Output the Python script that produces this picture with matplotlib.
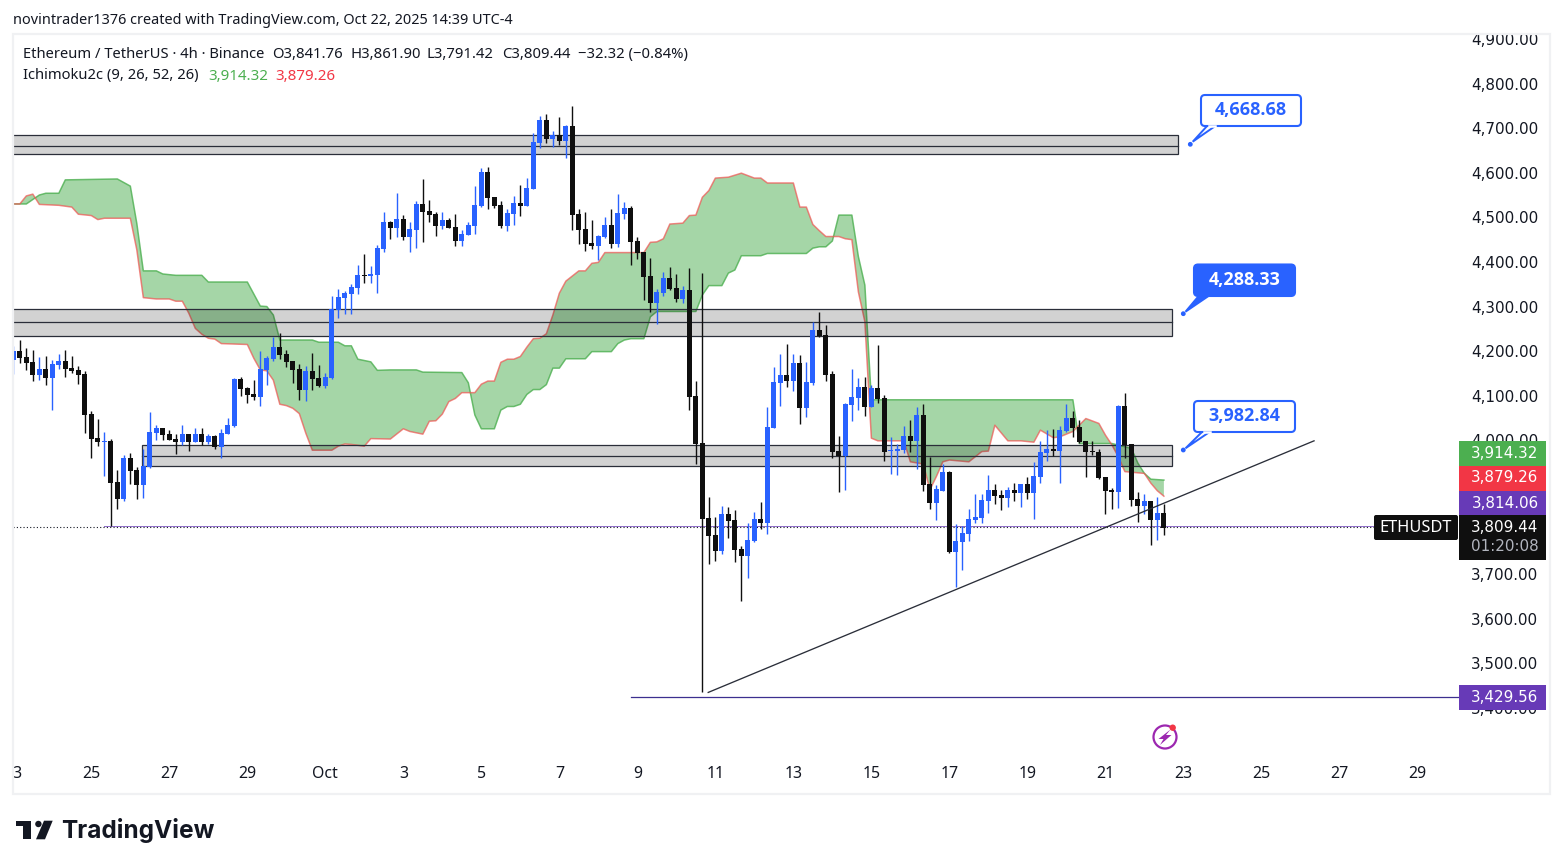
import matplotlib

matplotlib.use("Agg")

import matplotlib.pyplot as plt
import numpy as np
from matplotlib.patches import Circle, FancyBboxPatch, Polygon, Rectangle
from matplotlib.transforms import Affine2D, Bbox, TransformedBbox

W, H = 1563, 868
FONT = "Noto Sans"
NUM_FONT = "DejaVu Sans"
INK = "#131722"
BLUE = "#2962ff"
PURPLE = "#673ab7"

# 4h candles, first bar is Sep 23 00:00
opens = [
    4180, 4200, 4187, 4176, 4147, 4160, 4140, 4169, 4178, 4162,
    4158, 4149, 4059, 4005, 3996, 3999, 3907, 3869, 3960, 3934,
    3900, 3940, 4017, 4028, 4014, 4003, 3996, 4014, 3996, 4014,
    3996, 4010, 3985, 4014, 4032, 4138, 4117, 4104, 4097, 4158,
    4182, 4209, 4194, 4178, 4160, 4113, 4156, 4140, 4122, 4140,
    4292, 4319, 4328, 4342, 4371, 4369, 4371, 4429, 4490, 4476,
    4496, 4456, 4472, 4530, 4514, 4508, 4481, 4494, 4478, 4447,
    4461, 4481, 4526, 4602, 4546, 4528, 4481, 4508, 4532, 4526,
    4564, 4667, 4718, 4676, 4685, 4671, 4705, 4508, 4474, 4443,
    4436, 4456, 4483, 4440, 4508, 4521, 4447, 4422, 4369, 4308,
    4330, 4364, 4342, 4317, 4337, 4100, 3994, 3826, 3788, 3752,
    3835, 3822, 3757, 3741, 3774, 3824, 3815, 4028, 4129, 4147,
    4133, 4174, 4073, 4129, 4248, 4236, 4149, 3976, 3965, 4079,
    4095, 4120, 4075, 4118, 4095, 3976, 3976, 3978, 4010, 3999,
    4057, 3902, 3860, 3887, 3929, 3750, 3772, 3790, 3822, 3826,
    3864, 3889, 3878, 3871, 3889, 3882, 3902, 3882, 3918, 3972,
    3981, 3976, 4021, 4050, 4030, 3999, 3976, 3974, 3918, 3889,
    3884, 4077, 3992, 3869, 3853, 3864, 3822, 3837,
]
highs = [
    4212, 4225, 4207, 4203, 4187, 4189, 4180, 4194, 4203, 4189,
    4167, 4156, 4066, 4048, 4019, 4003, 3934, 3967, 3972, 3940,
    3981, 4064, 4034, 4028, 4023, 4014, 4034, 4014, 4028, 4028,
    4014, 4012, 4026, 4050, 4140, 4142, 4120, 4135, 4200, 4189,
    4232, 4241, 4203, 4178, 4171, 4167, 4196, 4169, 4151, 4324,
    4339, 4335, 4351, 4393, 4418, 4391, 4438, 4512, 4492, 4555,
    4505, 4490, 4537, 4586, 4539, 4512, 4512, 4499, 4508, 4472,
    4490, 4570, 4611, 4613, 4546, 4537, 4519, 4548, 4573, 4588,
    4689, 4727, 4732, 4694, 4725, 4707, 4750, 4519, 4512, 4494,
    4461, 4501, 4519, 4552, 4534, 4526, 4456, 4422, 4409, 4339,
    4378, 4389, 4373, 4346, 4386, 4133, 4375, 3873, 3828, 3853,
    3851, 3844, 3763, 3815, 3839, 3862, 4075, 4165, 4194, 4216,
    4194, 4192, 4176, 4265, 4288, 4259, 4156, 4010, 4084, 4160,
    4140, 4142, 4124, 4214, 4102, 4008, 3992, 4032, 4046, 4075,
    4082, 3963, 3900, 3947, 3931, 3813, 3808, 3846, 3880, 3880,
    3922, 3902, 3889, 3895, 3904, 3902, 3918, 3952, 3999, 4023,
    4025, 4032, 4082, 4066, 4046, 3999, 3999, 3981, 3918, 3893,
    4079, 4106, 3992, 3884, 3880, 3864, 3873, 3857,
]
lows = [
    4149, 4174, 4158, 4134, 4135, 4124, 4068, 4160, 4142, 4151,
    4126, 4017, 3960, 3987, 3920, 3808, 3846, 3864, 3902, 3869,
    3871, 3938, 4001, 4001, 4001, 3969, 3990, 3976, 3996, 3990,
    3992, 3981, 3960, 4014, 4030, 4100, 4084, 4091, 4077, 4124,
    4178, 4182, 4165, 4129, 4091, 4088, 4113, 4120, 4117, 4138,
    4274, 4283, 4283, 4328, 4353, 4353, 4330, 4422, 4451, 4456,
    4449, 4422, 4431, 4445, 4490, 4458, 4474, 4476, 4436, 4436,
    4461, 4463, 4523, 4519, 4521, 4476, 4470, 4483, 4503, 4526,
    4564, 4656, 4667, 4658, 4662, 4633, 4472, 4440, 4425, 4429,
    4404, 4454, 4431, 4434, 4496, 4393, 4407, 4315, 4288, 4261,
    4324, 4337, 4310, 4308, 4068, 3947, 3435, 3723, 3730, 3745,
    3781, 3727, 3640, 3691, 3772, 3801, 3790, 4028, 4077, 4120,
    4111, 4037, 4052, 4124, 4232, 4133, 3960, 3884, 3889, 4044,
    4068, 4055, 4075, 4084, 3954, 3925, 3922, 3972, 3974, 3936,
    3887, 3846, 3822, 3887, 3748, 3671, 3709, 3774, 3815, 3815,
    3837, 3857, 3844, 3851, 3864, 3851, 3869, 3824, 3904, 3954,
    3965, 3904, 4019, 4008, 3994, 3918, 3967, 3913, 3835, 3846,
    3848, 3960, 3853, 3817, 3835, 3765, 3777, 3788,
]
closes = [
    4200, 4185, 4174, 4147, 4160, 4140, 4171, 4178, 4160, 4156,
    4147, 4057, 4003, 3996, 3999, 3904, 3869, 3960, 3931, 3900,
    3943, 4019, 4028, 4012, 4001, 3996, 4014, 3996, 4014, 3996,
    4010, 3985, 4017, 4034, 4138, 4115, 4102, 4097, 4160, 4185,
    4209, 4191, 4176, 4158, 4113, 4156, 4138, 4122, 4142, 4295,
    4321, 4330, 4344, 4371, 4369, 4373, 4431, 4490, 4476, 4496,
    4456, 4474, 4530, 4512, 4505, 4481, 4494, 4476, 4447, 4463,
    4483, 4528, 4602, 4544, 4526, 4481, 4510, 4532, 4526, 4566,
    4669, 4718, 4676, 4685, 4671, 4705, 4505, 4472, 4440, 4436,
    4458, 4483, 4440, 4510, 4521, 4445, 4420, 4366, 4308, 4333,
    4364, 4339, 4317, 4337, 4097, 3992, 3824, 3786, 3752, 3835,
    3819, 3754, 3741, 3777, 3824, 3815, 4030, 4131, 4147, 4133,
    4174, 4073, 4131, 4248, 4234, 4147, 3974, 3965, 4082, 4097,
    4120, 4075, 4118, 4093, 3974, 3979, 3981, 4010, 3999, 4057,
    3900, 3860, 3891, 3929, 3750, 3774, 3792, 3824, 3828, 3866,
    3889, 3875, 3871, 3889, 3882, 3902, 3882, 3920, 3974, 3981,
    3976, 4023, 4050, 4028, 3996, 3974, 3974, 3916, 3887, 3884,
    4077, 3990, 3866, 3853, 3864, 3822, 3837, 3803,
]

# ichimoku cloud, only the bars where the line bends
span_a_bars = [
    0, 2, 4, 5, 7, 8, 16, 18, 19, 20, 22, 23, 25, 29, 30, 36, 38, 39, 40, 41,
    46, 47, 50, 51, 52, 53, 55, 56, 58, 62, 63, 69, 70, 71, 72, 74, 75, 76, 77, 78,
    79, 80, 81, 82, 83, 84, 85, 88, 89, 92, 93, 94, 95, 97, 98, 99, 105, 106, 107, 109,
    110, 111, 112, 115, 116, 122, 123, 124, 125, 126, 127, 129, 130, 131, 132, 163, 164, 169, 172, 173,
    174, 175, 177,
]
span_a = [
    4530, 4530, 4550, 4554, 4554, 4584, 4586, 4570, 4486, 4380, 4380, 4373, 4370, 4370, 4355, 4355, 4301, 4300, 4281, 4225,
    4225, 4220, 4220, 4212, 4212, 4182, 4176, 4157, 4158, 4158, 4153, 4152, 4129, 4057, 4026, 4026, 4068, 4076, 4076, 4081,
    4103, 4114, 4114, 4125, 4162, 4162, 4183, 4183, 4199, 4199, 4217, 4225, 4228, 4228, 4277, 4289, 4289, 4326, 4347, 4347,
    4375, 4382, 4414, 4414, 4419, 4419, 4431, 4434, 4434, 4447, 4505, 4505, 4412, 4348, 4091, 4091, 3993, 3993, 3982, 3949,
    3926, 3913, 3911,
]
span_b_bars = [
    0, 1, 2, 3, 4, 7, 9, 10, 12, 13, 14, 18, 19, 20, 22, 24, 25, 26, 27, 28,
    29, 30, 31, 32, 36, 37, 38, 39, 40, 41, 42, 43, 44, 45, 46, 49, 50, 51, 52, 54,
    55, 58, 60, 61, 63, 64, 65, 66, 67, 68, 69, 71, 72, 73, 74, 75, 76, 77, 78, 79,
    80, 81, 82, 83, 84, 85, 87, 88, 89, 90, 91, 97, 98, 99, 100, 101, 103, 104, 105, 106,
    107, 108, 110, 112, 114, 115, 116, 120, 121, 122, 123, 124, 125, 127, 128, 129, 130, 131, 132, 133,
    137, 138, 140, 141, 142, 143, 144, 147, 149, 150, 151, 153, 155, 157, 158, 160, 161, 163, 165, 167,
    168, 169, 170, 171, 174, 175, 176, 177,
]
span_b = [
    4530, 4530, 4548, 4552, 4529, 4527, 4523, 4507, 4504, 4495, 4498, 4498, 4427, 4320, 4317, 4317, 4312, 4312, 4285, 4251,
    4238, 4229, 4227, 4217, 4215, 4184, 4158, 4156, 4135, 4081, 4078, 4072, 4060, 4016, 3978, 3978, 3987, 3992, 3991, 3987,
    4004, 4003, 4026, 4020, 4014, 4043, 4044, 4059, 4087, 4094, 4107, 4107, 4126, 4133, 4133, 4175, 4182, 4182, 4188, 4209,
    4228, 4229, 4239, 4281, 4330, 4357, 4380, 4380, 4397, 4399, 4421, 4421, 4444, 4445, 4452, 4485, 4487, 4504, 4505, 4545,
    4560, 4588, 4590, 4599, 4588, 4588, 4577, 4577, 4523, 4523, 4484, 4470, 4457, 4457, 4452, 4450, 4333, 4266, 4005, 3999,
    3999, 3952, 3947, 3889, 3919, 3952, 3956, 3952, 3975, 3976, 4034, 3999, 3999, 3996, 4023, 4006, 4008, 4020, 4049, 4038,
    4012, 3990, 3963, 3930, 3926, 3904, 3887, 3875,
]

# drawn zones: first bar, last bar, top, middle, bottom
zone_starts = [-1, -1, 19.85]
zone_ends = [179.2, 178.2, 178.2]
zone_tops = [4685, 4294, 3989]
zone_mids = [4661, 4265, 3964]
zone_bottoms = [4641, 4235, 3942]

trend_bars = [106.9, 200.1]
trend_prices = [3435, 3999]
low_line_price = 3425
avg_line_price = 3809
last_line_price = 3805

# 3,800 and 3,900 sit completely behind the price tags
price_ticks = [3400, 3500, 3600, 3700, 4000, 4100, 4200, 4300, 4400, 4500, 4600, 4700, 4800, 4900]
time_ticks = np.arange(0, 217, 12)
time_labels = ["23", "25", "27", "29", "Oct", "3", "5", "7", "9", "11", "13", "15",
               "17", "19", "21", "23", "25", "27", "29"]

fig = plt.figure(figsize=(W / 100, H / 100), dpi=100, facecolor="white")
# pixel space of the picture, y down, for the interface parts
px = Affine2D().scale(1 / W, -1 / H).translate(0, 1) + fig.transFigure


def fig_text(x, y, s, **kw):
    kw.setdefault("family", FONT)
    kw.setdefault("color", INK)
    kw.setdefault("fontsize", 10.6)
    kw.setdefault("va", "center")
    return fig.text(x, y, s, transform=px, **kw)


def fig_box(x0, y0, x1, y1, color, rounded=0, z=10, **kw):
    box = FancyBboxPatch((x0, y0), x1 - x0, y1 - y0, boxstyle=f"round,pad=0,rounding_size={rounded}",
                         transform=px, facecolor=color, edgecolor=kw.pop("edge", "none"), zorder=z, **kw)
    fig.add_artist(box)
    return box


# frame around the chart
fig.add_artist(Rectangle((12.5, 33.5), 1537.5, 760, transform=px, fill=False, edgecolor="#f0f1f3", linewidth=1.6))

ax = fig.add_axes([13 / W, 1 - 756 / H, (1459 - 13) / W, (756 - 34) / H])
ax.set_xlim(-0.05, 222.4)
ax.set_ylim(3292.5, 4911)
for side in ax.spines.values():
    side.set_visible(False)
ax.yaxis.tick_right()
ax.set_yticks(price_ticks, [f"{p:,.2f}" for p in price_ticks])
ax.set_xticks(time_ticks, time_labels)
ax.tick_params(axis="y", length=0, pad=8.5, labelsize=10.9, labelcolor=INK)
ax.tick_params(axis="x", length=0, pad=7.5, labelsize=11.4, labelcolor=INK)
for lab in ax.get_yticklabels():
    lab.set_family(NUM_FONT)
for lab in ax.get_xticklabels():
    lab.set_family(FONT)
# the first date sits on the frame and gets cut there
first = ax.get_xticklabels()[0]
first.set_clip_on(True)
first.set_clip_box(TransformedBbox(Bbox([[13, 0], [1459, H]]), px))

# cloud
ax.fill(np.r_[span_a_bars, span_b_bars[::-1]], np.r_[span_a, span_b[::-1]],
        color="#4caf50", alpha=0.5, linewidth=0, zorder=1)
ax.plot(span_a_bars, span_a, color="#4caf50", linewidth=1.1, alpha=0.8, zorder=1.2)
ax.plot(span_b_bars, span_b, color="#ef5350", linewidth=1.1, alpha=0.7, zorder=1.2)

# zones
for start, end, top, mid, bottom in zip(zone_starts, zone_ends, zone_tops, zone_mids, zone_bottoms):
    ax.add_patch(Rectangle((start, bottom), end - start, top - bottom, facecolor="black", alpha=0.175,
                           linewidth=0, zorder=2))
    ax.add_patch(Rectangle((start, bottom), end - start, top - bottom, fill=False, edgecolor="#2a2e39",
                           linewidth=0.9, zorder=2.1))
    ax.plot([start, end], [mid, mid], color="#2a2e39", linewidth=0.9, zorder=2.1)

# candles
o, h, l, c = map(np.array, (opens, highs, lows, closes))
bars = np.arange(len(o))
colors = np.where(c >= o, BLUE, "#0f0f0f")
ax.vlines(bars, l, h, colors=colors, linewidth=1.0, zorder=3)
ax.bar(bars, np.maximum(np.abs(c - o), 2.2), bottom=np.minimum(o, c), width=0.78, color=colors, linewidth=0, zorder=3.1)

# lines
ax.plot(trend_bars, trend_prices, color="#2a2e39", linewidth=0.95, zorder=4)
ax.plot([95, 222.4], [low_line_price] * 2, color="#3c2f8f", linewidth=0.9, zorder=4)
ax.plot([14, 209.5], [avg_line_price] * 2, color="#7e57c2", linewidth=0.72, alpha=0.85, zorder=2.5)
ax.plot([0, 209.5], [last_line_price] * 2, color="#131722", linewidth=0.8, linestyle=(0, (1, 2)), zorder=2.6)

# header and legend
fig_text(13, 20.5, "novintrader1376 created with TradingView.com, Oct 22, 2025 14:39 UTC-4", fontsize=10.4)
fig_text(23, 54.5, "Ethereum / TetherUS · 4h · Binance")
for x, s in zip([272, 350, 426, 502, 578], ["O3,841.76", "H3,861.90", "L3,791.42", "C3,809.44", "−32.32 (−0.84%)"]):
    fig_text(x, 54.5, s, fontsize=10.7)
fig_text(23, 76, "Ichimoku2c (9, 26, 52, 26)")
fig_text(208, 76, "3,914.32", fontsize=10.9, color="#4caf50")
fig_text(275, 76, "3,879.26", fontsize=10.9, color="#f23645")

# price tags on the axis
tag_tops = [441, 466, 491, 515, 685]
tag_bottoms = [466, 491, 515, 560, 710]
tag_colors = ["#4caf50", "#f23645", PURPLE, "#0f0f0f", PURPLE]
tag_texts = ["3,914.32", "3,879.26", "3,814.06", "3,809.44", "3,429.56"]
tag_mids = [453, 478, 503, 527, 697]
for top, bottom, col, s, mid in zip(tag_tops, tag_bottoms, tag_colors, tag_texts, tag_mids):
    fig_box(1459, top, 1546, bottom, col)
    fig_text(1505, mid, s, family=NUM_FONT, ha="center", color="white", fontsize=10.9, zorder=11)
fig_text(1505, 546.5, "01:20:08", family=NUM_FONT, ha="center", color="#b2b5be", fontsize=10.9, zorder=11)
fig_box(1374, 515, 1458, 540, "#0f0f0f", rounded=2)
fig_text(1416, 528, "ETHUSDT", ha="center", color="white", fontsize=11.8, zorder=11)

# callouts
callouts = [
    ("4,668.68", (1201, 95, 1301, 126), (1190.3, 144.3), [(1208, 125), (1216, 125.5), (1192.7, 141.7)], False),
    ("4,288.33", (1194, 264.5, 1295, 296), (1183.3, 313.7), [(1199.5, 295), (1210, 295), (1185.5, 311.7)], True),
    ("3,982.84", (1194, 401, 1295, 432), (1183.3, 450), [(1203, 431), (1211, 431), (1185.5, 448.3)], False),
]
for s, (x0, y0, x1, y1), dot, tail, filled in callouts:
    face = BLUE if filled else "white"
    fig.add_artist(Polygon(tail, closed=True, transform=px, facecolor=face, edgecolor=BLUE, linewidth=1.4,
                           zorder=10))
    fig_box(x0, y0, x1, y1, face, rounded=4, edge=BLUE, linewidth=1.5, z=10.1)
    if not filled:
        fig.add_artist(plt.Line2D([tail[0][0] + 0.8, tail[1][0] - 0.8], [y1, y1], transform=px, color="white",
                                  linewidth=1.8, zorder=10.2))
    fig.add_artist(Circle(dot, 2.4, transform=px, facecolor=BLUE, edgecolor="none", zorder=10))
    fig_text((x0 + x1) / 2, (y0 + y1) / 2 - 0.5, s, family="Open Sans", ha="center", fontsize=13, fontweight="bold",
             color="white" if filled else BLUE, zorder=11)

# replay style badge
fig.add_artist(Circle((1165, 737), 11.5, transform=px, fill=False, edgecolor="#9c27b0", linewidth=1.6, zorder=6))
fig.add_artist(Polygon([(1170.5, 729.5), (1158.5, 739), (1163.5, 739), (1160, 745), (1171.5, 735), (1166, 735)],
                       closed=True, transform=px, facecolor="#9c27b0", edgecolor="none", zorder=6))
fig.add_artist(Circle((1172.7, 727.7), 3.2, transform=px, facecolor="#f23645", edgecolor="none", zorder=7))

# logo
logo = "#131722"
fig.add_artist(Polygon([(15.7, 820.7), (31, 820.7), (31, 839.3), (23.3, 839.3), (23.3, 826), (15.7, 826)],
                       closed=True, transform=px, facecolor=logo, edgecolor="none"))
fig.add_artist(Circle((38.4, 824), 3.2, transform=px, facecolor=logo, edgecolor="none"))
fig.add_artist(Polygon([(52.7, 820.7), (44, 820.7), (36, 839.3), (45, 839.3)],
                       closed=True, transform=px, facecolor=logo, edgecolor="none"))
fig_text(61.5, 830.5, "TradingView", family="Inter", fontsize=17.6, fontweight="bold")

fig.savefig("out.png", dpi=100)
